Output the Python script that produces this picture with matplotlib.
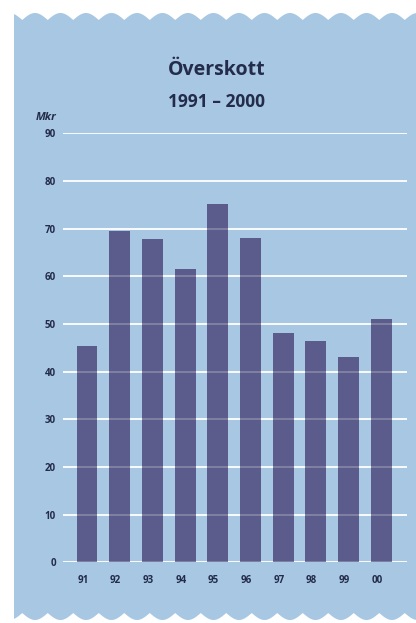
import numpy as np
import matplotlib
matplotlib.use("Agg")
import matplotlib.pyplot as plt
from matplotlib.patches import Polygon

# data (Mkr)
years = ["91", "92", "93", "94", "95", "96", "97", "98", "99", "00"]
overskott = [45.4, 69.4, 67.9, 61.6, 75.2, 68.0, 48.0, 46.5, 43.0, 51.1]
yticks = [0, 10, 20, 30, 40, 50, 60, 70, 80, 90]

W, H = 416, 623
bg_blue = "#a8c7e3"
bar_col = "#5b5c8b"
txt_col = "#232c4a"

plt.rcParams['font.family'] = ['Open Sans', 'DejaVu Sans']

fig = plt.figure(figsize=(W / 100, H / 100), dpi=100)
fig.patch.set_facecolor("white")

# blue card with scalloped top and bottom edge (pixel coords -> figure fraction)
P = 25.5
x0 = 302.75
xs = np.linspace(14, W, 800)
top = 20 - 7 * np.abs(np.sin(np.pi * (xs - x0) / P))
bot = 613 + 7 * np.abs(np.sin(np.pi * (xs - x0) / P))
pts = np.vstack([np.column_stack([xs, top]), np.column_stack([xs[::-1], bot[::-1]])])
pts_fig = np.column_stack([pts[:, 0] / W, 1 - pts[:, 1] / H])
fig.patches.append(Polygon(pts_fig, closed=True, transform=fig.transFigure,
                           facecolor=bg_blue, edgecolor="none", zorder=-5))

# axes placed so that 0..90 matches the gridlines
left, right = 63 / W, 407 / W
y0, y90 = 562.3, 133.3
ax = fig.add_axes([left, 1 - y0 / H, right - left, (y0 - y90) / H])
ax.set_facecolor("none")
ax.set_zorder(2)

x = np.arange(len(years))
bw = 0.64
ax.set_xlim(-0.734, 9.786)
ax.set_ylim(0, 90)

for v in yticks:
    ax.axhline(v, color="white", lw=1.3, zorder=1)
ax.bar(x, overskott, width=bw, color=bar_col, zorder=2)
for v in yticks:
    ax.axhline(v, color="white", lw=1.1, alpha=0.28, zorder=3)

for s in ax.spines.values():
    s.set_visible(False)
ax.set_yticks(yticks)
ax.set_yticklabels([str(v) for v in yticks], fontsize=7, fontweight="bold", color=txt_col)
# year labels sit at the left edge of each bar
ax.set_xticks(x - bw / 2 + 0.02)
ax.set_xticklabels(years, fontsize=7, fontweight="bold", color=txt_col, ha="left")
ax.tick_params(axis="y", length=0, pad=5)
ax.tick_params(axis="x", length=0, pad=9)

fig.text(217 / W, 1 - 75 / H, "Överskott", ha="center", va="baseline",
         fontsize=14, fontweight="bold", color=txt_col, zorder=3)
fig.text(216 / W, 1 - 107 / H, "1991 – 2000", ha="center", va="baseline",
         fontsize=12.5, fontweight="bold", color=txt_col, zorder=3)
fig.text(56 / W, 1 - 117 / H, "Mkr", ha="right", va="center",
         fontsize=8, fontweight="bold", style="italic", color=txt_col, zorder=3)

fig.savefig("out.png", dpi=100, facecolor=fig.get_facecolor())
